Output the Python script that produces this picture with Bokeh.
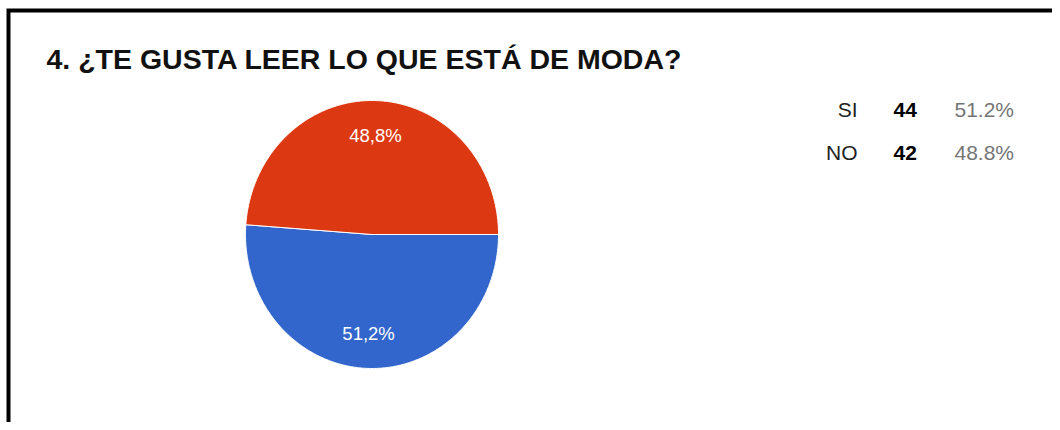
import numpy as np
from bokeh.plotting import figure
from bokeh.models import Range1d, ColumnDataSource
from bokeh.core.properties import value
from bokeh.embed import file_html
from bokeh.resources import INLINE

# ---- data ----
title_text = "4. ¿TE GUSTA LEER LO QUE ESTÁ DE MODA?"
categories = ["SI", "NO"]
counts = [44, 42]
colors = ["#3366CC", "#DC3912"]

# ---- layout (pixel-like data space, y pointing down) ----
W, H = 1052, 422
p = figure(width=W, height=H, output_backend="svg", toolbar_location=None,
           x_range=Range1d(0, W), y_range=Range1d(H, 0),
           x_axis_location=None, y_axis_location=None, min_border=0)
p.grid.visible = False
p.outline_line_color = None
p.background_fill_color = "white"
p.border_fill_color = "white"

# frame border (left and top only visible in crop)
p.line(x=[8, 8, W + 10], y=[H + 10, 10, 10], line_color="black", line_width=4,
       line_join="miter")

# title
p.text(x=[46], y=[58], text=[title_text], text_font=value("Liberation Sans"),
       text_font_style="bold", text_font_size="28.5px", text_color="#111111",
       text_baseline="alphabetic", text_align="left")

# pie (ellipse, clockwise from 3 o'clock)
cx, cy, rx, ry = 371.5, 234.0, 126.5, 134.0
total = float(sum(counts))
fracs = np.array(counts, dtype=float) / total
ends = np.cumsum(fracs) * 2 * np.pi
starts = ends - fracs * 2 * np.pi
xs, ys, lx, ly, ltxt = [], [], [], [], []
for s, e, f in zip(starts, ends, fracs):
    t = np.linspace(s, e, 300)
    xs.append([cx] + list(cx + rx * np.cos(t)) + [cx])
    ys.append([cy] + list(cy + ry * np.sin(t)) + [cy])
    m = (s + e) / 2
    lx.append(cx + 0.74 * rx * np.cos(m))
    ly.append(cy + 0.74 * ry * np.sin(m))
    ltxt.append(f"{f*100:.1f}".replace(".", ",") + "%")

src = ColumnDataSource(dict(xs=xs, ys=ys, color=colors))
p.patches("xs", "ys", source=src, fill_color="color", line_color="white", line_width=1)
p.text(x=lx, y=ly, text=ltxt, text_font=value("Liberation Sans"), text_font_size="18.5px",
       text_color="white", text_align="center", text_baseline="middle")

# legend table
row_y = [109, 152]
pcts = [f"{c/total*100:.1f}%" for c in counts]
p.text(x=[857] * 2, y=row_y, text=categories, text_font=value("Liberation Sans"),
       text_font_size="21px", text_color="#222222", text_align="right",
       text_baseline="alphabetic")
p.text(x=[893] * 2, y=row_y, text=[str(c) for c in counts], text_font=value("Liberation Sans"),
       text_font_size="21px", text_font_style="bold", text_color="#000000",
       text_align="left", text_baseline="alphabetic")
p.text(x=[954] * 2, y=row_y, text=pcts, text_font=value("Liberation Sans"),
       text_font_size="21px", text_color="#757575", text_align="left",
       text_baseline="alphabetic")

open("out.html", "w").write(file_html(p, INLINE))
